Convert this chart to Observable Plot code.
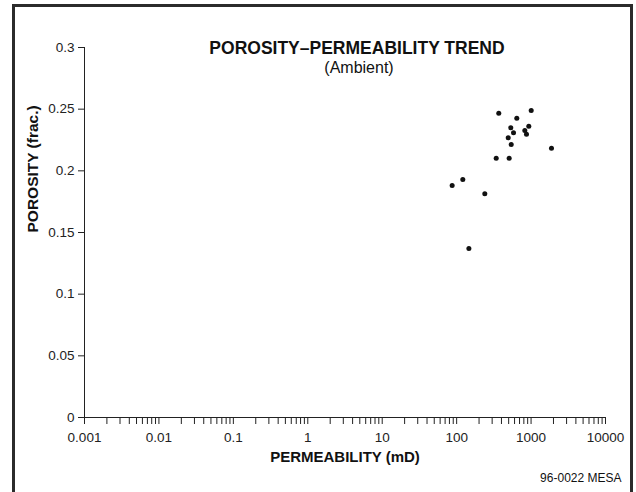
<!DOCTYPE html>
<html><head><meta charset="utf-8">
<script src="https://cdn.jsdelivr.net/npm/d3@7"></script>
<script src="https://cdn.jsdelivr.net/npm/@observablehq/plot@0.6"></script>
<style>
body{margin:0;background:#fff;font-family:"Liberation Sans",Arial,sans-serif;}
#wrap{position:relative;width:636px;height:492px;overflow:hidden;}
#border{position:absolute;left:12px;top:4px;width:621px;height:520px;border:3px solid #2b2b2b;box-sizing:border-box;}
#wrap svg{position:absolute;left:0;top:0;}
</style></head>
<body><div id="wrap"><div id="border"></div></div>
<script>
const permeability = [368, 1004, 643, 534, 932, 581, 824, 868, 493, 541, 1880, 340, 508, 121, 87, 239, 146];
const porosity = [0.2467, 0.2489, 0.2427, 0.2349, 0.2362, 0.2308, 0.2327, 0.2297, 0.2268, 0.2214, 0.2184, 0.2102, 0.2102, 0.193, 0.1881, 0.1814, 0.137];
const xMajorTicks = [0.001, 0.01, 0.1, 1, 10, 100, 1000, 10000];
const yTicks = [0, 0.05, 0.1, 0.15, 0.2, 0.25, 0.3];
const title = "POROSITY\u2013PERMEABILITY TREND";
const subtitle = "(Ambient)";
const xLabel = "PERMEABILITY (mD)";
const yLabel = "POROSITY (frac.)";
const note = "96-0022 MESA";

const data = permeability.map((k, i) => ({k, phi: porosity[i]}));
const minorTicks = [];
for (const m of xMajorTicks.slice(0, -1)) for (let j = 2; j <= 9; j++) minorTicks.push(+(m * j).toPrecision(3));

const ink = "#222";
const chart = Plot.plot({
  width: 636, height: 492,
  marginLeft: 84, marginRight: 31, marginTop: 47, marginBottom: 75,
  style: {fontFamily: "Liberation Sans, Arial, sans-serif", fontSize: "13px", color: ink, background: "transparent", overflow: "visible"},
  x: {type: "log", domain: [0.001, 10000]},
  y: {domain: [0, 0.3]},
  marks: [
    Plot.axisX({ticks: minorTicks, tickSize: 7, tickFormat: () => "", label: null, stroke: ink}),
    Plot.axisX({ticks: xMajorTicks, tickSize: 7, tickPadding: 8, tickFormat: d => String(d), label: null, stroke: ink, fontSize: 13.5}),
    Plot.axisY({ticks: yTicks, tickSize: 6, tickPadding: 4, tickFormat: d => String(d), label: null, stroke: ink, fontSize: 13.5}),
    Plot.ruleX([0.001], {stroke: ink}),
    Plot.ruleY([0], {stroke: ink}),
    Plot.dot(data, {x: "k", y: "phi", r: 2.5, fill: "#111", stroke: "none"}),
    Plot.text([title], {frameAnchor: "top", dy: -5.5, dx: 12, fontWeight: "bold", fontSize: 17.5, fill: "#111"}),
    Plot.text([subtitle], {frameAnchor: "top", dy: 14, dx: 14, fontSize: 16, fill: "#111"}),
    Plot.text([xLabel], {frameAnchor: "bottom", dy: 44, fontWeight: "bold", fontSize: 15, fill: "#111"}),
    Plot.text([yLabel], {frameAnchor: "left", dx: -51, rotate: -90, fontWeight: "bold", fontSize: 15.5, fill: "#111"}),
    Plot.text([note], {frameAnchor: "bottom-right", dx: 16, dy: 64, textAnchor: "end", fontSize: 12, fill: "#111"})
  ]
});
document.getElementById("wrap").appendChild(chart);
</script></body></html>
